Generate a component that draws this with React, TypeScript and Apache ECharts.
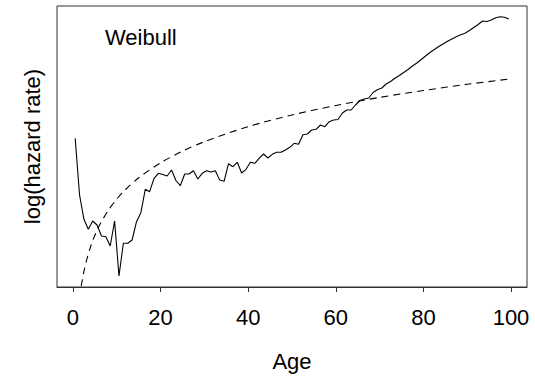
import React, { useEffect, useRef } from "react";
import * as echarts from "echarts";

// Observed log hazard by single year of age (mid-year ages), arbitrary vertical units
const ages: number[] = Array.from({ length: 100 }, (_, i) => i + 0.5);
const observed: number[] = [
  148.7, 92, 67.7, 57.7, 66, 62, 51, 50.3, 41, 66,
  11, 43.7, 43.7, 47, 65.3, 74.3, 97.7, 95.3, 108.7, 113.7,
  112.5, 111, 117, 106.5, 101.3, 113, 113, 116.3, 108, 113.7,
  116.3, 115, 116.3, 107, 105.7, 123.3, 120.3, 124.7, 114, 117.7,
  124.7, 123.7, 128.7, 133, 129, 132.7, 134.7, 134.7, 137, 139.7,
  143.7, 142.7, 152.3, 153, 157, 157.7, 162, 160.3, 165.3, 167,
  167.5, 174, 177, 177, 182, 186.5, 188, 189, 194.5, 197.2,
  199, 203, 205.5, 208.7, 211.5, 214.5, 217.5, 221, 224, 227.5,
  231, 234.5, 237.5, 240.5, 243, 245.7, 248, 250.2, 252.3, 253.7,
  256.5, 259.5, 262.5, 266, 265.5, 267, 269.3, 270.2, 269.8, 268,
];

// Fitted Weibull log hazard
const weibullAges: number[] = [1.5, 1.8, 2, 2.5, 3, 4, 5, 6, 8, 10, 12, 15, 20, 25, 30, 40, 50, 60, 70, 80, 90, 99.5];
const weibullFit: number[] = [-11, -1.5, 4, 15.6, 25.1, 40.2, 51.8, 61.3, 76.3, 88, 97.5, 109.2, 124.2, 135.8, 145.3, 160.4, 172, 181.5, 189.6, 196.5, 202.7, 207.9];

const xTicks: number[] = [0, 20, 40, 60, 80, 100];

const FONT = "'Liberation Sans', Arial, Helvetica, sans-serif";

export default function App() {
  const ref = useRef<HTMLDivElement>(null);

  useEffect(() => {
    if (!ref.current) return;
    const chart = echarts.init(ref.current, null, { renderer: "svg" });
    chart.setOption({
      animation: false,
      backgroundColor: "#ffffff",
      grid: {
        left: 57,
        right: 8,
        top: 6,
        bottom: 90,
        show: true,
        borderColor: "#333333",
        borderWidth: 1,
        backgroundColor: "transparent",
      },
      xAxis: {
        type: "value",
        min: -3.65,
        max: 103.65,
        name: "Age",
        nameLocation: "middle",
        nameGap: 63,
        nameTextStyle: { fontSize: 22, color: "#000", fontFamily: FONT },
        axisLine: { show: true, lineStyle: { color: "#333333", width: 1 } },
        axisTick: { show: true, length: 5, customValues: xTicks, lineStyle: { color: "#333333" } },
        axisLabel: { customValues: xTicks, fontSize: 22, color: "#000", fontFamily: FONT, margin: 19 },
        splitLine: { show: false },
      },
      yAxis: {
        type: "value",
        min: 0,
        max: 281,
        name: "log(hazard rate)",
        nameLocation: "middle",
        nameGap: 14,
        nameTextStyle: { fontSize: 22, color: "#000", fontFamily: FONT },
        axisLine: { show: false },
        axisTick: { show: false },
        axisLabel: { show: false },
        splitLine: { show: false },
      },
      graphic: [
        {
          type: "text",
          left: 105,
          top: 26,
          style: { text: "Weibull", fontSize: 22, fill: "#000", fontFamily: FONT },
        },
      ],
      series: [
        {
          type: "line",
          data: ages.map((a, i) => [a, observed[i]]),
          showSymbol: false,
          lineStyle: { color: "#000", width: 1.1 },
          clip: true,
        },
        {
          type: "line",
          data: weibullAges.map((a, i) => [a, weibullFit[i]]),
          showSymbol: false,
          smooth: 0.3,
          lineStyle: { color: "#000", width: 1.1, type: [7, 5] },
          clip: true,
        },
      ],
    });
    return () => chart.dispose();
  }, []);

  return (
    <div
      ref={ref}
      style={{ position: "absolute", left: 0, top: 0, width: 535, height: 377 }}
    />
  );
}
